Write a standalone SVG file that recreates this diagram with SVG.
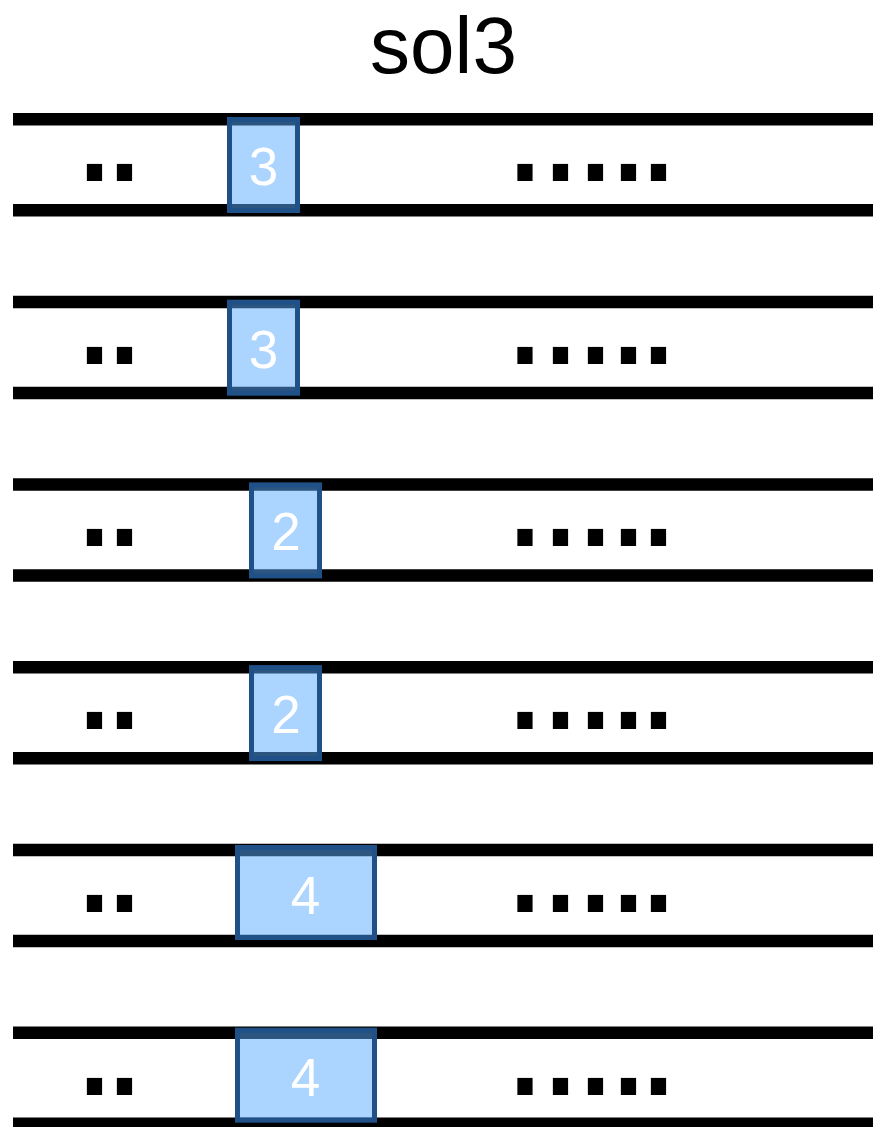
<svg xmlns="http://www.w3.org/2000/svg" width="873" height="1127" viewBox="0 0 873 1127">
<style>
.rail{stroke:#000;stroke-width:12.5}
.box{fill:rgb(88,170,255);fill-opacity:0.5;stroke:#1f5088;stroke-width:5}
.num{font-family:"Liberation Sans",Arial,sans-serif;font-size:53px;fill:#fff;text-anchor:middle}
.dot{font-family:"Liberation Sans",Arial,sans-serif;font-size:160px;fill:#000;text-anchor:middle}
.title{font-family:"Liberation Sans",Arial,sans-serif;font-size:80px;fill:#000;text-anchor:middle}
</style>
<rect width="873" height="1127" fill="#fff"/>
<text class="title" x="443.5" y="73">sol3</text>
<g id="connectors">
<line class="rail" x1="13" y1="119.2" x2="873" y2="119.2"/>
<line class="rail" x1="13" y1="210.2" x2="873" y2="210.2"/>
<line class="rail" x1="13" y1="301.9" x2="873" y2="301.9"/>
<line class="rail" x1="13" y1="392.9" x2="873" y2="392.9"/>
<line class="rail" x1="13" y1="484.6" x2="873" y2="484.6"/>
<line class="rail" x1="13" y1="575.6" x2="873" y2="575.6"/>
<line class="rail" x1="13" y1="667.3" x2="873" y2="667.3"/>
<line class="rail" x1="13" y1="758.3" x2="873" y2="758.3"/>
<line class="rail" x1="13" y1="850" x2="873" y2="850"/>
<line class="rail" x1="13" y1="941" x2="873" y2="941"/>
<line class="rail" x1="13" y1="1032.7" x2="873" y2="1032.7"/>
<line class="rail" x1="13" y1="1123.7" x2="873" y2="1123.7"/>
</g>
<g id="row1">
<text class="dot" x="94.5 124.5" y="181">..</text>
<text class="dot" x="525 560.5 595.5 628.5 658.5" y="181">.....</text>
<rect class="box" x="229.5" y="119.5" width="68" height="91"/>
<text class="num" x="263.5" y="185">3</text>
</g>
<g id="row2">
<text class="dot" x="94.5 124.5" y="363.7">..</text>
<text class="dot" x="525 560.5 595.5 628.5 658.5" y="363.7">.....</text>
<rect class="box" x="229.5" y="302.2" width="68" height="91"/>
<text class="num" x="263.5" y="367.7">3</text>
</g>
<g id="row3">
<text class="dot" x="94.5 124.5" y="546.4">..</text>
<text class="dot" x="525 560.5 595.5 628.5 658.5" y="546.4">.....</text>
<rect class="box" x="251.5" y="484.9" width="68" height="91"/>
<text class="num" x="286" y="550.4">2</text>
</g>
<g id="row4">
<text class="dot" x="94.5 124.5" y="729.1">..</text>
<text class="dot" x="525 560.5 595.5 628.5 658.5" y="729.1">.....</text>
<rect class="box" x="251.5" y="667.6" width="68" height="91"/>
<text class="num" x="286" y="733.1">2</text>
</g>
<g id="row5">
<text class="dot" x="94.5 124.5" y="911.8">..</text>
<text class="dot" x="525 560.5 595.5 628.5 658.5" y="911.8">.....</text>
<rect class="box" x="237.5" y="847.5" width="137" height="90"/>
<text class="num" x="305.5" y="913.5">4</text>
</g>
<g id="row6">
<text class="dot" x="94.5 124.5" y="1094.5">..</text>
<text class="dot" x="525 560.5 595.5 628.5 658.5" y="1094.5">.....</text>
<rect class="box" x="237.5" y="1030.2" width="137" height="90"/>
<text class="num" x="305.5" y="1096.2">4</text>
</g>
</svg>
